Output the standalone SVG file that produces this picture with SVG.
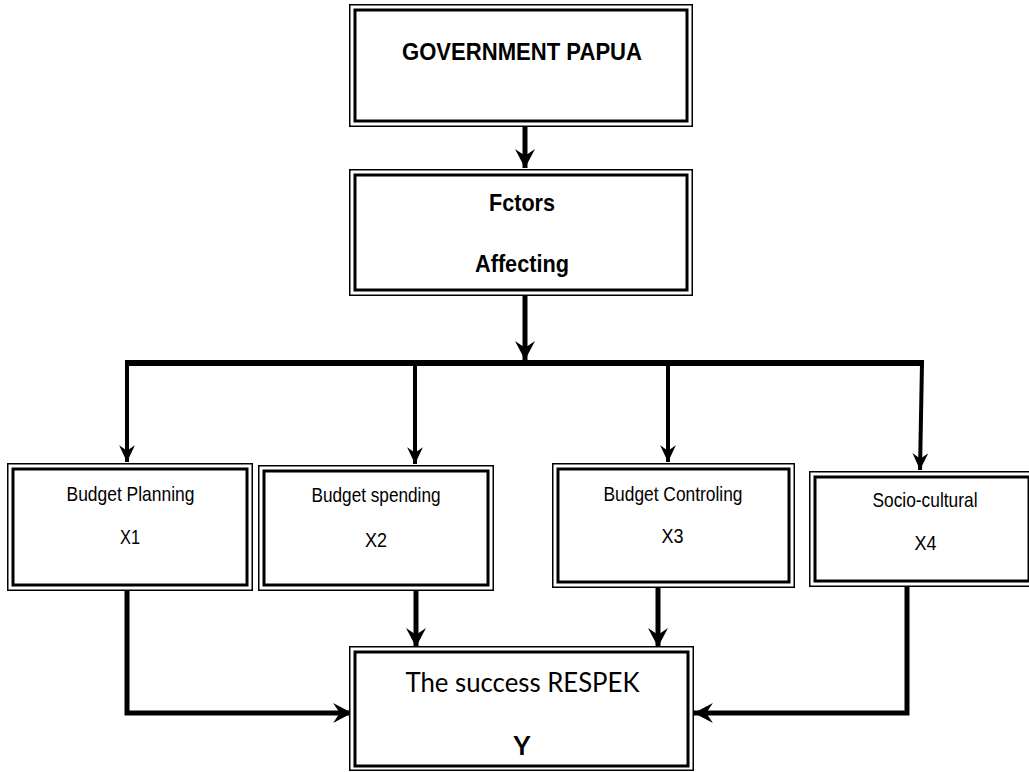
<svg xmlns="http://www.w3.org/2000/svg" width="1029" height="772" viewBox="0 0 1029 772">
<style>
.outer{fill:#fff;stroke:#000;stroke-width:1.5}
.inner{fill:none;stroke:#000;stroke-width:3}
.hd{font-family:"Liberation Sans",Arial,sans-serif;font-weight:bold;font-size:24px;text-anchor:middle;fill:#000}
.lb{font-family:"Liberation Sans",Arial,sans-serif;font-size:21px;text-anchor:middle;fill:#000}
.cb{font-family:Lato,"Liberation Sans",sans-serif;font-size:26px;text-anchor:middle;fill:#000}
.ln{fill:none;stroke:#000;stroke-linejoin:miter}
</style>
<defs>
<marker id="ah" markerUnits="userSpaceOnUse" orient="auto" markerWidth="20" markerHeight="20" refX="17" refY="9" viewBox="0 0 18 18">
<path d="M17,9 L0,0 L6,9 L0,18 Z" fill="#000"/>
</marker>
<marker id="ahs" markerUnits="userSpaceOnUse" orient="auto" markerWidth="18" markerHeight="16" refX="15" refY="7" viewBox="0 0 16 14">
<path d="M15,7 L0,0 L5,7 L0,14 Z" fill="#000"/>
</marker>
</defs>

<g id="connectors">
<line class="ln" x1="525" y1="127" x2="525" y2="168" stroke-width="5" marker-end="url(#ah)"/>
<line class="ln" x1="525" y1="296" x2="525" y2="360" stroke-width="5" marker-end="url(#ah)"/>
<line class="ln" x1="125" y1="363" x2="924" y2="363" stroke-width="6"/>
<line class="ln" x1="127" y1="363" x2="127" y2="462" stroke-width="4" marker-end="url(#ahs)"/>
<line class="ln" x1="415" y1="363" x2="415" y2="464" stroke-width="4" marker-end="url(#ahs)"/>
<line class="ln" x1="668" y1="363" x2="668" y2="462" stroke-width="4" marker-end="url(#ahs)"/>
<line class="ln" x1="922" y1="363" x2="920" y2="470" stroke-width="4" marker-end="url(#ahs)"/>
<path class="ln" d="M127,591 V713 H352" stroke-width="5" marker-end="url(#ah)"/>
<line class="ln" x1="416" y1="591" x2="416" y2="647" stroke-width="5" marker-end="url(#ah)"/>
<line class="ln" x1="658" y1="588" x2="658" y2="647" stroke-width="5" marker-end="url(#ah)"/>
<path class="ln" d="M907,587 V713 H694" stroke-width="5" marker-end="url(#ah)"/>
</g>

<g id="government">
<rect class="outer" x="349.75" y="4.75" width="342.5" height="121.5"/>
<rect class="inner" x="355" y="10" width="332" height="111"/>
<text class="hd" x="522" y="60" textLength="240" lengthAdjust="spacingAndGlyphs">GOVERNMENT PAPUA</text>
</g>

<g id="factors">
<rect class="outer" x="349.75" y="169.75" width="342.5" height="125.5"/>
<rect class="inner" x="355" y="175" width="332" height="115"/>
<text class="hd" x="522" y="211" textLength="66" lengthAdjust="spacingAndGlyphs">Fctors</text>
<text class="hd" x="522" y="272" textLength="94" lengthAdjust="spacingAndGlyphs">Affecting</text>
</g>

<g id="x1">
<rect class="outer" x="7.75" y="463.75" width="244.5" height="126.5"/>
<rect class="inner" x="13" y="469" width="234" height="116"/>
<text class="lb" x="130.5" y="501" textLength="128" lengthAdjust="spacingAndGlyphs">Budget Planning</text>
<text class="lb" x="130" y="544" textLength="20" lengthAdjust="spacingAndGlyphs">X1</text>
</g>

<g id="x2">
<rect class="outer" x="258.75" y="465.75" width="234.5" height="124.5"/>
<rect class="inner" x="264" y="471" width="224" height="114"/>
<text class="lb" x="376" y="502" textLength="129" lengthAdjust="spacingAndGlyphs">Budget spending</text>
<text class="lb" x="376" y="547" textLength="22" lengthAdjust="spacingAndGlyphs">X2</text>
</g>

<g id="x3">
<rect class="outer" x="552.75" y="463.75" width="241.5" height="123.5"/>
<rect class="inner" x="558" y="469" width="231" height="113"/>
<text class="lb" x="673" y="501" textLength="139" lengthAdjust="spacingAndGlyphs">Budget Controling</text>
<text class="lb" x="672.5" y="543" textLength="22" lengthAdjust="spacingAndGlyphs">X3</text>
</g>

<g id="x4">
<rect class="outer" x="809.75" y="471.75" width="224" height="114.5"/>
<rect class="inner" x="815" y="477" width="214" height="104"/>
<text class="lb" x="925" y="507" textLength="105" lengthAdjust="spacingAndGlyphs">Socio-cultural</text>
<text class="lb" x="925.5" y="550" textLength="22" lengthAdjust="spacingAndGlyphs">X4</text>
</g>

<g id="respek">
<rect class="outer" x="349.75" y="646.75" width="343.5" height="123.5"/>
<rect class="inner" x="355" y="652" width="333" height="114"/>
<text class="cb" x="522.5" y="692" textLength="234" lengthAdjust="spacingAndGlyphs">The success RESPEK</text>
<text class="cb" x="522" y="755" font-weight="bold">Y</text>
</g>
</svg>
